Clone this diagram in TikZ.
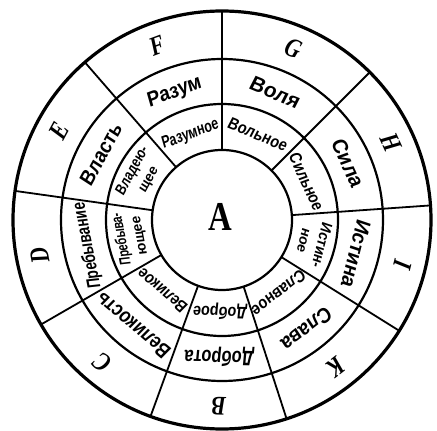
\documentclass[tikz,border=0pt]{standalone}
\usepackage{fontspec}
\newfontfamily\lblfont[FakeSlant=0.08]{Liberation Sans}
\newfontfamily\letfont[FakeStretch=0.8]{Liberation Serif}
\newcommand\Let[1]{{\fontsize{27}{27}\letfont\bfseries\itshape #1}}
\newcommand\T[3]{{\fontsize{#1}{#1}\lblfont\bfseries\addfontfeatures{FakeStretch=#2}#3}}
\begin{document}
\begin{tikzpicture}[x=1pt,y=1pt,
  ring/.style={line width=2.2pt},
  outerring/.style={line width=3.2pt},
  divider/.style={line width=1.8pt},
  lab/.style={inner sep=0pt, anchor=base}]
\useasboundingbox (-222,-211) rectangle (215,220);
% circles
\draw[outerring] (0,0) circle (209);
\draw[ring] (0,0) circle (161);
\draw[ring] (0,0) circle (116);
\draw[ring] (0,0) circle (70);
% dividers
\foreach \a in {90,45,4,-32,-72,-110,-150,172,131}
  \draw[divider] (\a:70) -- (\a:209);
% centre
\node[inner sep=0pt] (cA) at (-2,3) {{\fontsize{41}{41}\letfont\bfseries A}};
% letters (outer ring), baseline at r=177
\node[lab, rotate=20.5]  (lF) at (110.5:177) {\Let{F}};
\node[lab, rotate=-22.5] (lG) at (67.5:177) {\Let{G}};
\node[lab, rotate=-65.5] (lH) at (24.5:177) {\Let{H}};
\node[lab, rotate=-104]  (lI) at (-14:177) {\Let{I}};
\node[lab, rotate=-142]  (lK) at (-52:177) {\Let{K}};
\node[lab, rotate=-181]  (lB) at (-91:177) {\Let{B}};
\node[lab, rotate=-220]  (lC) at (-130:177) {\Let{C}};
\node[lab, rotate=-259]  (lD) at (-169:177) {\Let{D}};
\node[lab, rotate=61.5]  (lE) at (151.5:177) {\Let{E}};
% middle ring, baseline at r=131
\node[lab, rotate=20.5]  (mF) at (110.5:131) {\T{20.9}{0.91}{Разум}};
\node[lab, rotate=-22.5] (mG) at (67.5:131) {\T{20.9}{0.99}{Воля}};
\node[lab, rotate=-65.5] (mH) at (24.5:131) {\T{20.9}{0.96}{Сила}};
\node[lab, rotate=-104]  (mI) at (-14:131) {\T{20.9}{0.93}{Истина}};
\node[lab, rotate=-142]  (mK) at (-52:131) {\T{20.9}{0.91}{Слава}};
\node[lab, rotate=-181]  (mB) at (-91:131) {\T{20.9}{0.79}{Доброта}};
\node[lab, rotate=-220]  (mC) at (-130:131) {\T{20.9}{0.82}{Великость}};
\node[lab, rotate=-259]  (mD) at (-169:132) {\T{18.5}{0.75}{Пребывание}};
\node[lab, rotate=61.5]  (mE) at (151.5:131) {\T{20.9}{0.90}{Власть}};
% inner ring, baseline at r=87
\node[lab, rotate=20.5]  (iF) at (110.5:87) {\T{16.8}{0.75}{Разумное}};
\node[lab, rotate=-22.5] (iG) at (67.5:87) {\T{16.8}{0.86}{Вольное}};
\node[lab, rotate=-65.5] (iH) at (24.5:87) {\T{16.8}{0.84}{Сильное}};
\node[lab, rotate=-104]  (iI1) at (-14:98) {\T{15.4}{0.90}{Истин-}};
\node[lab, rotate=-104]  (iI2) at (-14:80) {\T{14}{1.0}{ное}};
\node[lab, rotate=-142]  (iK) at (-52:87) {\T{16.8}{0.88}{Славное}};
\node[lab, rotate=-181]  (iB) at (-91:87) {\T{16.8}{0.86}{Доброе}};
\node[lab, rotate=-220]  (iC) at (-130:87) {\T{16.8}{0.85}{Великое}};
\node[lab, rotate=-259]  (iD1) at (-169:98) {\T{15.4}{0.71}{Пребыва-}};
\node[lab, rotate=-259]  (iD2) at (-169:80) {\T{14}{1.0}{ющее}};
\node[lab, rotate=61.5]  (iE1) at (151.5:98) {\T{15.4}{0.80}{Владею-}};
\node[lab, rotate=61.5]  (iE2) at (151.5:80) {\T{14}{1.0}{щее}};
\end{tikzpicture}
\end{document}
